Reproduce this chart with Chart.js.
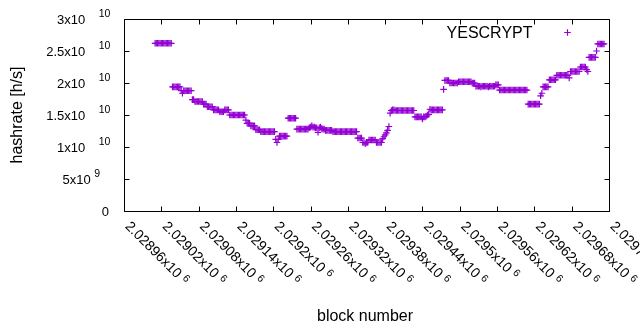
<!DOCTYPE html>
<html>
<head>
<meta charset="utf-8">
<script src="https://cdn.jsdelivr.net/npm/chart.js@4/dist/chart.umd.min.js"></script>
<style>
  html, body { margin: 0; padding: 0; background: #ffffff; }
  #c { display: block; }
</style>
</head>
<body>
<canvas id="c" width="640" height="330"></canvas>
<script>
// ---------- data ----------
const seriesName = 'YESCRYPT';
const firstBlock = 2029010;   // first plotted block height
const blockStep = 2;          // every 2nd block is listed below
// hashrate in units of 1e10 h/s, one value per listed block
const hashrateE10 = [
  2.62,2.62,2.62,2.62,2.62,2.62,2.62,2.62,2.62,2.62,2.62,2.62,2.62,2.62,
  1.94,1.94,1.94,1.94,1.94,1.94,1.94,
  1.88,1.84,1.88,1.88,1.88,1.88,1.88,1.88,1.88,
  1.74,1.74,1.71,1.71,1.71,1.71,1.71,1.71,1.71,
  1.67,1.67,1.67,
  1.63,1.63,1.63,1.63,1.63,
  1.58,1.58,1.58,1.58,1.58,
  1.55,1.55,1.55,1.55,
  1.58,1.58,1.58,1.58,
  1.50,1.50,1.50,1.50,1.50,1.50,1.50,1.50,1.50,1.50,1.50,1.50,1.50,
  1.42,
  1.37,1.37,1.37,1.33,1.33,1.33,1.33,
  1.27,1.27,1.27,1.27,
  1.24,1.24,1.24,1.24,1.24,1.24,1.24,1.24,1.24,1.24,1.24,1.24,
  1.12,1.07,1.12,
  1.17,1.17,1.17,1.17,1.17,1.17,1.17,
  1.45,1.45,1.45,1.45,1.45,1.45,1.45,
  1.28,1.28,1.28,1.28,1.28,1.28,1.28,1.28,1.28,1.28,
  1.30,1.31,1.33,1.31,1.31,1.30,1.30,1.23,1.30,1.31,1.29,1.28,1.28,
  1.26,1.26,1.26,1.26,1.26,1.26,
  1.24,1.24,1.24,1.24,1.24,1.24,1.24,1.24,1.24,1.24,1.24,1.24,1.24,1.24,1.24,1.24,1.24,1.24,1.24,1.24,
  1.14,1.14,1.14,1.14,
  1.07,1.07,1.05,1.07,1.07,
  1.11,1.11,1.11,1.11,1.11,1.11,
  1.07,1.07,1.07,1.07,1.07,
  1.13,1.16,1.19,1.22,1.26,
  1.32,
  1.53,1.57,1.58,1.58,1.57,1.57,1.57,1.57,1.57,1.57,1.57,1.57,1.57,1.57,1.57,1.57,1.57,1.57,1.57,1.57,
  1.47,1.47,1.47,1.47,1.47,1.47,1.44,1.47,1.47,1.48,1.50,1.51,
  1.59,1.58,1.58,1.58,1.58,1.58,1.58,1.58,1.58,1.58,1.58,
  1.90,
  2.04,2.04,2.04,2.04,
  2.00,2.00,2.00,2.00,2.00,2.00,2.00,
  2.02,2.02,2.02,2.02,2.02,2.02,2.02,2.02,2.02,2.02,2.02,
  2.00,2.00,2.00,
  1.95,1.95,1.95,1.95,1.94,1.95,1.95,1.95,1.95,1.95,1.94,1.95,1.95,1.95,1.95,1.95,
  1.97,1.97,1.97,
  1.89,1.89,1.89,1.89,1.89,1.89,1.89,1.89,1.89,1.89,1.89,1.89,1.89,1.89,1.89,1.89,1.89,1.89,1.89,1.89,1.89,1.89,1.89,
  1.67,1.67,1.67,1.67,1.67,1.67,1.67,1.67,1.67,1.67,
  1.80,1.84,
  1.94,1.94,1.94,1.94,1.94,
  2.05,2.05,2.05,2.05,2.05,2.05,
  2.12,2.12,2.12,2.12,2.12,2.12,2.12,2.12,2.12,2.12,2.08,
  2.18,2.18,2.18,2.18,2.18,2.18,2.18,2.18,
  2.25,2.25,2.25,2.25,2.25,2.21,
  2.18,
  2.40,2.40,2.40,2.40,2.40,2.40,
  2.50,
  2.61,2.61,2.61,2.61,2.61,2.61
];
const xTickValues = [2028960,2029020,2029080,2029140,2029200,2029260,2029320,2029380,2029440,2029500,2029560,2029620,2029680,2029740];
const yTickValues = [0,5e9,1e10,1.5e10,2e10,2.5e10,3e10];
const xTitle = 'block number';
const yTitle = 'hashrate [h/s]';

// ---------- build points ----------
const points = hashrateE10.map((v, i) => ({ x: firstBlock + i * blockStep, y: v * 1e10 }));

// gnuplot-like "mantissa x10^exp" parts
function sciParts(v) {
  if (v === 0) return ['0', ''];
  const e = Math.floor(Math.log10(v) + 1e-9);
  const m = parseFloat((v / Math.pow(10, e)).toFixed(5));
  return [m + 'x10', String(e)];
}

const FONT = "'Liberation Sans', Arial, Helvetica, sans-serif";
const TICK = 5;
const seriesColour = '#9400d3';

const gnuplotFrame = {
  id: 'gnuplotFrame',
  afterDraw(chart) {
    const { ctx, chartArea: a, scales } = chart;
    const xs = scales.x, ys = scales.y;
    ctx.save();
    ctx.strokeStyle = '#000';
    ctx.lineWidth = 1;
    const L = Math.round(a.left) + 0.5, R = Math.round(a.right) + 0.5;
    const T = Math.round(a.top) + 0.5, B = Math.round(a.bottom) + 0.5;
    ctx.beginPath();
    ctx.rect(L, T, R - L, B - T);
    xTickValues.forEach(v => {
      const px = Math.round(xs.getPixelForValue(v)) + 0.5;
      ctx.moveTo(px, B); ctx.lineTo(px, B - TICK);
      ctx.moveTo(px, T); ctx.lineTo(px, T + TICK);
    });
    yTickValues.forEach(v => {
      const py = Math.round(ys.getPixelForValue(v)) + 0.5;
      ctx.moveTo(L, py); ctx.lineTo(L + TICK, py);
      ctx.moveTo(R, py); ctx.lineTo(R - TICK, py);
    });
    ctx.stroke();

    ctx.fillStyle = '#000';
    ctx.textBaseline = 'alphabetic';
    // y tick labels
    yTickValues.forEach(v => {
      const py = ys.getPixelForValue(v);
      const [main, ex] = sciParts(v);
      ctx.font = '13px ' + FONT;
      ctx.textAlign = 'right';
      if (!ex) {
        ctx.fillText(main, a.left - 15, py + 4.5);
        return;
      }
      const mainRight = ex.length > 1 ? a.left - 38.7 : a.left - 33.3;
      const supLeft = ex.length > 1 ? a.left - 25.3 : a.left - 29.7;
      ctx.fillText(main, mainRight, py + 4.5);
      ctx.font = '10.5px ' + FONT;
      ctx.textAlign = 'left';
      ctx.fillText(ex, supLeft, py - 1.7);
    });
    // x tick labels (rotated 45deg)
    xTickValues.forEach(v => {
      const px = xs.getPixelForValue(v);
      const [main, ex] = sciParts(v);
      ctx.save();
      ctx.translate(px + 0.5, a.bottom + 16);
      ctx.rotate(Math.PI / 4);
      ctx.textAlign = 'left';
      ctx.font = '14px ' + FONT;
      ctx.fillText(main, 0, 0);
      const w = ctx.measureText(main).width;
      ctx.font = '10.5px ' + FONT;
      ctx.fillText(ex, w + 4, -4);
      ctx.restore();
    });
    // axis titles
    ctx.font = '16px ' + FONT;
    ctx.textAlign = 'center';
    ctx.fillText(xTitle, 365, 320.5);
    ctx.save();
    ctx.translate(21.5, (a.top + a.bottom) / 2);
    ctx.rotate(-Math.PI / 2);
    ctx.fillText(yTitle, 0, 0);
    ctx.restore();
    // key
    const ds = chart.data.datasets[0];
    ctx.textAlign = 'right';
    ctx.fillText(ds.label, 532.5, 37.5);
    ctx.strokeStyle = ds.borderColor;
    ctx.fillStyle = ds.backgroundColor;
    ctx.lineWidth = ds.pointBorderWidth;
    Chart.helpers.drawPoint(ctx, {
      pointStyle: 'cross', radius: ds.pointRadius, borderWidth: ds.pointBorderWidth, rotation: 0
    }, 567.5, 32.5);
    ctx.restore();
  }
};

new Chart(document.getElementById('c'), {
  type: 'scatter',
  data: {
    datasets: [{
      label: seriesName,
      data: points,
      pointStyle: 'cross',
      pointRadius: 3.3,
      pointHoverRadius: 3.3,
      pointBorderWidth: 1.2,
      borderColor: seriesColour,
      backgroundColor: seriesColour,
      showLine: false
    }]
  },
  options: {
    responsive: false,
    animation: false,
    devicePixelRatio: 1,
    events: [],
    layout: { padding: { left: 124, right: 31, top: 19, bottom: 119 } },
    plugins: { legend: { display: false }, tooltip: { enabled: false } },
    scales: {
      x: {
        type: 'linear', min: 2028960, max: 2029740, display: false,
        ticks: { stepSize: 60, maxTicksLimit: 30 },
        grid: { display: false }, border: { display: false }
      },
      y: {
        type: 'linear', min: 0, max: 3e10, display: false,
        ticks: { stepSize: 5e9 },
        grid: { display: false }, border: { display: false }
      }
    }
  },
  plugins: [gnuplotFrame]
});
</script>
</body>
</html>
